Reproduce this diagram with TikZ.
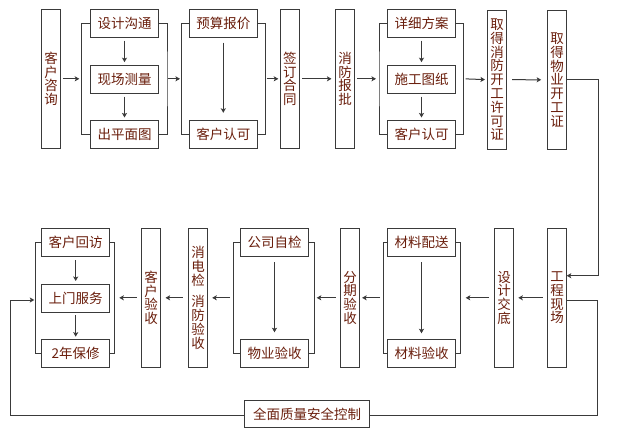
\documentclass[tikz,border=0pt]{standalone}
\usepackage{fontspec}
\newfontfamily\cjk{Noto Sans CJK SC}
\usetikzlibrary{arrows.meta}
\definecolor{txt}{HTML}{6A1E0C}
\definecolor{ln}{HTML}{3A3A3A}
\begin{document}
\begin{tikzpicture}[x=1pt,y=-1pt,
  every node/.style={inner sep=0pt,outer sep=0pt},
  box/.style={draw=ln,line width=1pt,fill=white,text=txt,font=\cjk\fontsize{13.5}{13.8}\selectfont,align=center},
  hb/.style={box,minimum width=68.4pt,minimum height=28pt},
  vb/.style={box,minimum width=19pt,minimum height=139pt},
  ln/.style={draw=ln,line width=1pt},
  arr/.style={ln,-{Stealth[length=4.5pt,width=5pt,inset=1pt]}}]
\fill[white] (0,0) rectangle (624,429);
\useasboundingbox (0,0) rectangle (624,429);
% top row
\node[vb] (kzx) at (51,78.8) {客\\户\\咨\\询};
\node[hb] (sj) at (124.5,23.3) {设计沟通};
\node[hb] (xc) at (124.5,79.5) {现场测量};
\node[hb] (cp) at (124.5,134.5) {出平面图};
\node[hb] (ys) at (223.3,23.3) {预算报价};
\node[hb] (kr1) at (223.3,134.5) {客户认可};
\node[vb] (qd) at (289.8,78.8) {签\\订\\合\\同};
\node[vb] (xf) at (345,78.8) {消\\防\\报\\批};
\node[hb] (xx) at (421.5,23.3) {详细方案};
\node[hb] (sg) at (421.5,79.5) {施工图纸};
\node[hb] (kr2) at (421.5,134.5) {客户认可};
\node[vb] (qx) at (497.2,79.7) {取\\得\\消\\防\\开\\工\\许\\可\\证};
\node[vb] (qw) at (557,79.8) {取\\得\\物\\业\\开\\工\\证};
% bottom row
\node[vb] (gc) at (557,297.8) {工\\程\\现\\场};
\node[vb] (sjd) at (504.2,297.8) {设\\计\\交\\底};
\node[hb] (clp) at (421.5,242.3) {材料配送};
\node[hb] (clys) at (421.5,353.3) {材料验收};
\node[vb] (fq) at (350,297.8) {分\\期\\验\\收};
\node[hb,minimum width=67.6pt] (gs) at (274.5,242.3) {公司自检};
\node[hb,minimum width=67.6pt] (wy) at (274.5,353.3) {物业验收};
\node[vb] (xd) at (198,297.8) {消\\电\\检\\[8pt]消\\防\\验\\收};
\node[vb] (ky) at (151,297.8) {客\\户\\验\\收};
\node[hb,minimum width=68pt] (hf) at (75.7,242.3) {客户回访};
\node[hb,minimum width=68pt] (smfw) at (75.7,298.3) {上门服务};
\node[hb,minimum width=68pt] (bx) at (75.7,353.3) {2年保修};
\node[box,minimum width=124.6pt,minimum height=26.6pt] (qc) at (307,414) {全面质量安全控制};
% bracket coordinates
\coordinate (g1l) at (81.7,78.8);  \coordinate (g1r) at (167,78.8);
\coordinate (g2l) at (181.7,78.8); \coordinate (g2r) at (265.7,78.8);
\coordinate (g3l) at (379,78.8);   \coordinate (g3r) at (463.7,78.8);
\coordinate (g4l) at (383.3,297.8); \coordinate (g4r) at (460.3,297.8);
\coordinate (g5l) at (233.3,297.8); \coordinate (g5r) at (314.3,297.8);
\coordinate (g6l) at (35.7,300);   \coordinate (g6r) at (114.3,297.8);
% brackets
\draw[ln] (sj.west) -| (g1l) |- (cp.west);
\draw[ln] (sj.east) -| (g1r) |- (cp.east);
\draw[ln] (ys.west) -| (g2l) |- (kr1.west);
\draw[ln] (ys.east) -| (g2r) |- (kr1.east);
\draw[ln] (xx.west) -| (g3l) |- (kr2.west);
\draw[ln] (xx.east) -| (g3r) |- (kr2.east);
\draw[ln] (clp.west) -| (g4l) |- (clys.west);
\draw[ln] (clp.east) -| (g4r) |- (clys.east);
\draw[ln] (gs.west) -| (g5l) |- (wy.west);
\draw[ln] (gs.east) -| (g5r) |- (wy.east);
\draw[ln] (hf.west) -| (g6l) |- (bx.west);
\draw[ln] (hf.east) -| (g6r) |- (bx.east);
% vertical arrows
\draw[arr,shorten <=3.4pt,shorten >=3.3pt] (sj) -- (xc);
\draw[arr,shorten <=3pt,shorten >=3pt] (xc) -- (cp);
\draw[arr,shorten <=5.4pt,shorten >=7.7pt] (ys) -- (kr1);
\draw[arr,shorten <=3.4pt,shorten >=3.3pt] (xx) -- (sg);
\draw[arr,shorten <=3pt,shorten >=3pt] (sg) -- (kr2);
\draw[arr,shorten <=6pt,shorten >=6pt] (clp) -- (clys);
\draw[arr,shorten <=6pt,shorten >=7pt] (gs) -- (wy);
\draw[arr,shorten <=3.7pt,shorten >=3.3pt] (hf) -- (smfw);
\draw[arr,shorten <=3pt,shorten >=2.6pt] (smfw) -- (bx);
% top horizontal arrows
\draw[arr,shorten <=2.4pt,shorten >=2.4pt] (kzx.east) -- (g1l);
\draw[arr,shorten <=1pt,shorten >=1.7pt] (g1r) -- (g2l);
\draw[arr,shorten <=1pt,shorten >=2pt] (g2r) -- (qd.west);
\draw[arr,shorten <=2.7pt,shorten >=4pt] (qd.east) -- (xf.west);
\draw[arr,shorten <=2.7pt,shorten >=3pt] (xf.east) -- (g3l);
\draw[arr,shorten <=2pt,shorten >=2.7pt] (g3r) -- (qx.west);
\draw[arr,shorten <=5.3pt,shorten >=6.3pt] (qx.east) -- (qw.west);
% down link
\coordinate (c1) at (598.3,79.8);
\coordinate (c2) at (598.3,275.7);
\coordinate (gcin) at (566.7,275.7);
\draw[arr] (qw.east) -- (c1) -- (c2) -- (gcin);
% bottom horizontal arrows
\draw[arr,shorten <=4.6pt,shorten >=4.6pt] (gc.west) -- (sjd.east);
\draw[arr,shorten <=5.7pt,shorten >=5.4pt] (sjd.west) -- (g4r);
\draw[arr,shorten <=3.3pt,shorten >=2.6pt] (g4l) -- (fq.east);
\draw[arr,shorten <=4.6pt,shorten >=2.4pt] (fq.west) -- (g5r);
\draw[arr,shorten <=3.3pt,shorten >=4.7pt] (g5l) -- (xd.east);
\draw[arr,shorten <=6pt,shorten >=5pt] (xd.west) -- (ky.east);
\draw[arr,shorten <=5pt,shorten >=5pt] (ky.west) -- (g6r);
% quality control loop
\coordinate (gcout) at (566.7,300);
\coordinate (d1) at (597.3,300);
\coordinate (d2) at (597.3,415);
\coordinate (qcin) at (369.3,415);
\draw[ln] (gcout) -- (d1) -- (d2) -- (qcin);
\coordinate (qcout) at (244.7,415);
\coordinate (e1) at (10.7,415);
\coordinate (e2) at (10.7,300);
\draw[arr,shorten >=1.4pt] (qcout) -- (e1) -- (e2) -- (g6l);
\end{tikzpicture}
\end{document}
